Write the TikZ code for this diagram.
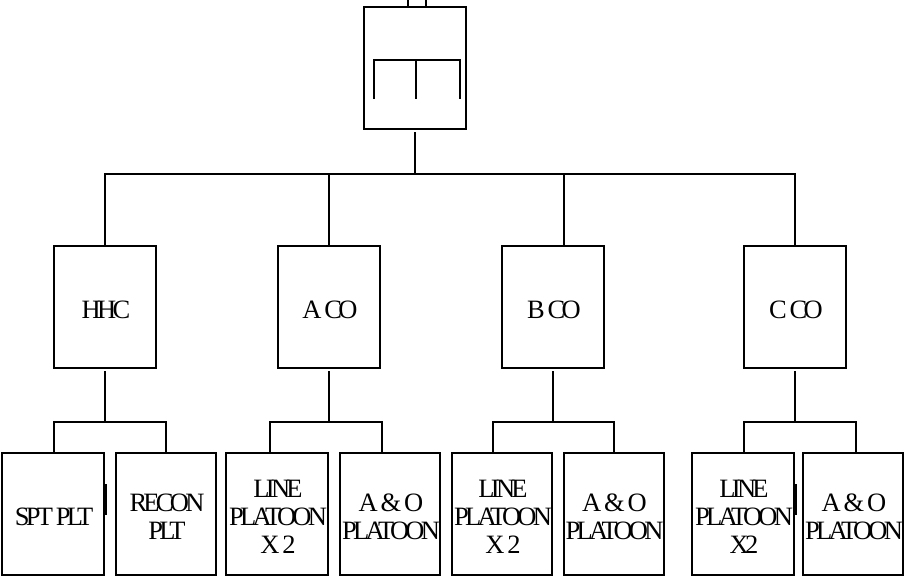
\documentclass[tikz,border=0pt]{standalone}
\usepackage{fontspec}
\setmainfont{Liberation Serif}[LetterSpace=-14]
\newcommand{\lbl}[1]{\raisebox{-6pt}[\height][\depth]{\hspace*{2pt}\begin{tabular}{@{}c@{}}#1\end{tabular}}}
\begin{document}
\begin{tikzpicture}[x=1pt,y=-1pt,line width=2pt,line join=miter,
  orgbox/.style={draw,rectangle,inner sep=0pt,minimum width=102pt,minimum height=122pt,
    font=\fontsize{26.5}{28}\selectfont}]
\useasboundingbox (0,0) rectangle (904,576);
% top unit
\node[orgbox] (top) at (415,68) {};
\draw (374,99) |- (460,60) -- (460,99);
\draw (416,60) -- (416,99);
\coordinate (up1) at (408,0);
\coordinate (up2) at (426,0);
\draw (up1) -- (up1 |- top.north);
\draw (up2) -- (up2 |- top.north);
% second level
\node[orgbox] (hhc) at (105,307) {\lbl{HHC}};
\node[orgbox] (aco) at (329,307) {\lbl{A CO}};
\node[orgbox] (bco) at (553,307) {\lbl{B CO}};
\node[orgbox] (cco) at (795,307) {\lbl{C CO}};
% third level
\node[orgbox] (spt) at (53,514) {\lbl{SPT PLT}};
\node[orgbox,minimum width=100pt] (recon) at (166,514) {\lbl{RECON\\PLT}};
\node[orgbox] (lineA) at (277,514) {\lbl{LINE\\PLATOON\\X 2}};
\node[orgbox,minimum width=100pt] (aoA) at (390,514) {\lbl{A \& O\\PLATOON}};
\node[orgbox,minimum width=100pt] (lineB) at (502,514) {\lbl{LINE\\PLATOON\\X 2}};
\node[orgbox,minimum width=99pt] (aoB) at (613.5,514) {\lbl{A \& O\\PLATOON}};
\node[orgbox] (lineC) at (743,514) {\lbl{LINE\\PLATOON\\X2}};
\node[orgbox,minimum width=100pt] (aoC) at (853,514) {\lbl{A \& O\\PLATOON}};
% bus
\coordinate (busy) at (0,174);
\coordinate (forky) at (0,422);
\draw ([yshift=-2pt]top.south) -- (top.south |- busy);
\draw (hhc.north) |- (busy -| cco.north) -- (cco.north);
\draw (aco.north) -- (aco.north |- busy);
\draw ([xshift=11pt]bco.north) -- ([xshift=11pt]bco.north |- busy);
% forks
\draw ([yshift=-2pt]hhc.south) -- (hhc.south |- forky);
\draw ([xshift=1pt]spt.north) |- (forky -| recon.north) -- (recon.north);
\draw ([yshift=-2pt]aco.south) -- (aco.south |- forky);
\draw ([xshift=-7pt]lineA.north) |- ([xshift=-8pt]aoA.north |- forky) -- ([xshift=-8pt]aoA.north);
\draw ([yshift=-2pt]bco.south) -- (bco.south |- forky);
\draw ([xshift=-9pt]lineB.north) |- (forky -| aoB.north) -- (aoB.north);
\draw ([yshift=-2pt]cco.south) -- (cco.south |- forky);
\draw ([xshift=1pt]lineC.north) |- ([xshift=3pt]aoC.north |- forky) -- ([xshift=3pt]aoC.north);
% small marks
\fill (104,484) rectangle (107,515);
\fill (794,484) rectangle (797,515);
\end{tikzpicture}
\end{document}
